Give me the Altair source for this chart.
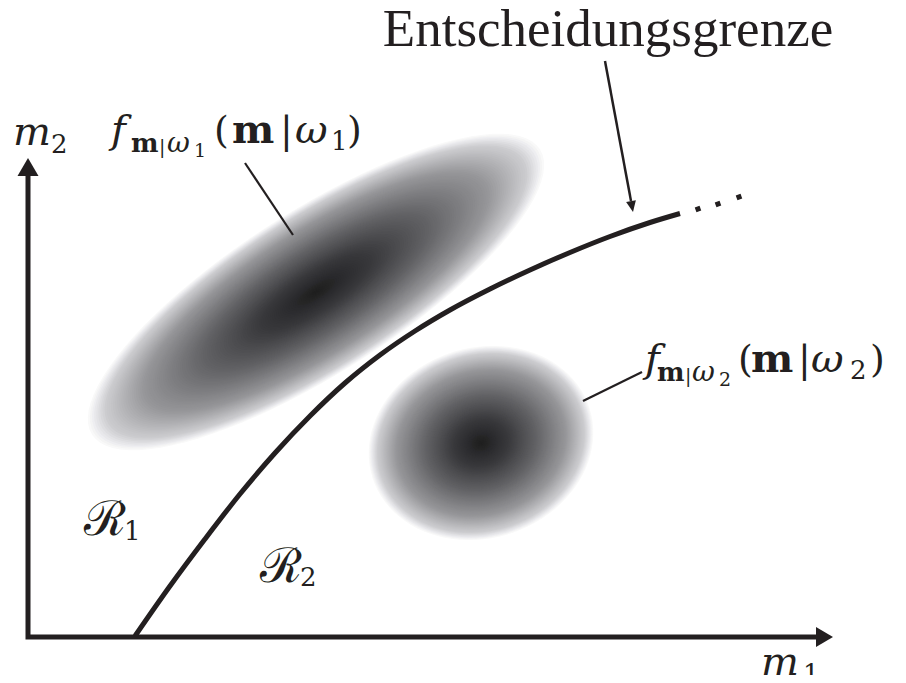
import math
import altair as alt
import pandas as pd

INK = "#231f20"
W, H = 890, 667

# ---------------- data ----------------
AXIS_X = [28, 28, 820]
AXIS_Y = [172, 637, 637]

CURVE_X = [135, 170, 205, 240, 275, 310, 345, 380, 415, 450, 490, 530, 570, 610, 650, 680]
CURVE_Y = [636, 586, 539, 494, 453, 416, 383, 355, 331, 310, 289, 270, 252.5, 236.5, 222.5, 213.5]

DOT_X = [698, 718, 739]
DOT_Y = [209, 204, 197]

# blobs: centre, semi-axes, rotation
BLOB_X = [316, 481]
BLOB_Y = [292, 443]
BLOB_A = [268, 115]
BLOB_B = [82, 96]
BLOB_ANGLE = [327.5, 342]

# grey profile of the blobs (fraction of radius -> grey level)
PROFILE_T = [0.0, 0.25, 0.5, 0.75, 0.92, 1.0]
PROFILE_V = [30, 58, 100, 150, 205, 255]

# leader lines and the arrow to the boundary
LEAD_X = [245, 642, 605]
LEAD_Y = [163, 372, 61]
LEAD_X2 = [293, 583, 631]
LEAD_Y2 = [235, 401, 201]
LEAD_W = [2.2, 2.2, 2.5]

# text pieces: (text, x, baseline y)
TITLE = [("Entscheidungsgrenze", 608, 46)]
ITALIC_BIG = [("f", 111, 143), ("ω", 295, 143), ("f", 645, 372), ("ω", 811, 372),
              ("m", 13, 145), ("m", 761, 675)]
REG_BIG = [("(", 214, 143), ("|", 280, 143), (")", 347, 143),
           ("(", 738, 372), ("|", 798, 372), (")", 870, 372)]
BOLD_BIG = [("m", 232, 143), ("m", 751, 372)]
REG_SUB = [("1", 331, 150), ("2", 850, 379), ("2", 51, 153), ("1", 803, 683),
           ("1", 124, 540), ("2", 300, 586)]
REG_SUBSUB = [("|", 159, 153), ("1", 194, 157), ("|", 685, 382), ("2", 719, 386)]
ITALIC_SUB = [("ω", 167, 152), ("ω", 692, 381)]
BOLD_SUB = [("m", 131, 152), ("m", 657, 381)]
SCRIPT_R = [("ℛ", 84, 535), ("ℛ", 260, 582)]

# ---------------- helpers ----------------
xs = alt.Scale(domain=[8, 8 + W], zero=False, nice=False)
ys = alt.Scale(domain=[8, 8 + H], zero=False, nice=False, reverse=True)


def X(f="x"):
    return alt.X(f"{f}:Q", scale=xs, axis=None)


def Y(f="y"):
    return alt.Y(f"{f}:Q", scale=ys, axis=None)


def ellipse_path(ratio, n=90):
    pts = []
    for k in range(n):
        a = 2 * math.pi * k / n
        pts.append(f"{math.cos(a):.4f},{ratio * math.sin(a):.4f}")
    return "M" + "L".join(pts) + "Z"


def grey(t):
    v = 255
    for i in range(len(PROFILE_T) - 1):
        if t <= PROFILE_T[i + 1]:
            u = (t - PROFILE_T[i]) / (PROFILE_T[i + 1] - PROFILE_T[i])
            v = PROFILE_V[i] + u * (PROFILE_V[i + 1] - PROFILE_V[i])
            break
    r = int(round(v))
    b = int(round(min(255, v + (3 if 40 < v < 240 else 0))))
    return f"#{r:02x}{r:02x}{b:02x}"


layers = []

# blobs
N_LAYERS = 110
for bx, by, ba, bb, ang in zip(BLOB_X, BLOB_Y, BLOB_A, BLOB_B, BLOB_ANGLE):
    rows = []
    for i in range(N_LAYERS):
        t = 1 - i / N_LAYERS
        rows.append({"x": bx, "y": by, "s": (2 * ba * t) ** 2, "c": grey(t), "i": i})
    df = pd.DataFrame(rows)
    layers.append(
        alt.Chart(df).mark_point(shape=ellipse_path(bb / ba), filled=True, opacity=1,
                                 strokeWidth=0, angle=ang)
        .encode(x=X(), y=Y(), size=alt.Size("s:Q", scale=None),
                color=alt.Color("c:N", scale=None), order=alt.Order("i:Q"))
    )

# axes
axis_df = pd.DataFrame({"x": AXIS_X, "y": AXIS_Y, "i": range(len(AXIS_X))})
layers.append(
    alt.Chart(axis_df).mark_line(color=INK, strokeWidth=5, strokeJoin="miter", strokeCap="square")
    .encode(x=X(), y=Y(), order=alt.Order("i:Q"))
)
heads = pd.DataFrame({"x": [28, 824.5], "y": [167, 637]})
layers.append(
    alt.Chart(heads.iloc[[0]]).mark_point(shape="M0,-0.85L1,0.85L-1,0.85Z", filled=True,
                                          opacity=1, strokeWidth=0, color=INK, size=441)
    .encode(x=X(), y=Y())
)
layers.append(
    alt.Chart(heads.iloc[[1]]).mark_point(shape="M0.85,0L-0.85,1L-0.85,-1Z", filled=True,
                                          opacity=1, strokeWidth=0, color=INK, size=400)
    .encode(x=X(), y=Y())
)

# decision boundary
curve_df = pd.DataFrame({"x": CURVE_X, "y": CURVE_Y, "i": range(len(CURVE_X))})
layers.append(
    alt.Chart(curve_df).mark_line(color=INK, strokeWidth=5, interpolate="monotone", strokeCap="butt")
    .encode(x=X(), y=Y(), order=alt.Order("i:Q"))
)
dots_df = pd.DataFrame({"x": DOT_X, "y": DOT_Y})
layers.append(
    alt.Chart(dots_df).mark_point(shape="square", filled=True, opacity=1, strokeWidth=0,
                                  color=INK, size=26, angle=340)
    .encode(x=X(), y=Y())
)

# leader lines
lead_df = pd.DataFrame({"x": LEAD_X, "y": LEAD_Y, "x2": LEAD_X2, "y2": LEAD_Y2, "w": LEAD_W})
layers.append(
    alt.Chart(lead_df).mark_rule(color=INK, strokeCap="butt")
    .encode(x=X(), y=Y(), x2="x2:Q", y2="y2:Q", strokeWidth=alt.StrokeWidth("w:Q", scale=None))
)
layers.append(
    alt.Chart(pd.DataFrame({"x": [632], "y": [206.5]}))
    .mark_point(shape="M0,-1L0.9,1L-0.9,1Z", filled=True, opacity=1, strokeWidth=0,
                color=INK, size=121, angle=169.5)
    .encode(x=X(), y=Y())
)


def text_layer(items, font, size, style="normal", weight="normal", align="left"):
    df = pd.DataFrame(items, columns=["t", "x", "y"])
    return (alt.Chart(df)
            .mark_text(font=font, fontSize=size, fontStyle=style, fontWeight=weight,
                       align=align, baseline="alphabetic", color=INK)
            .encode(x=X(), y=Y(), text="t:N"))


MATH = "DejaVu Serif"
layers.append(text_layer(TITLE, "Liberation Serif", 53, align="center"))
layers.append(text_layer(ITALIC_BIG, MATH, 40, style="italic"))
layers.append(text_layer(REG_BIG, MATH, 38))
layers.append(text_layer(BOLD_BIG, MATH, 40, weight="bold"))
layers.append(text_layer(REG_SUB, MATH, 26))
layers.append(text_layer(REG_SUBSUB, MATH, 19))
layers.append(text_layer(ITALIC_SUB, MATH, 28, style="italic"))
layers.append(text_layer(BOLD_SUB, MATH, 26, weight="bold"))
layers.append(text_layer(SCRIPT_R, MATH, 48))

chart = (alt.layer(*layers)
         .properties(width=W, height=H, padding=0, autosize=alt.AutoSizeParams(type="none"))
         .configure_view(strokeWidth=0))

chart.save("out.html", embed_options={"renderer": "svg", "actions": False})
